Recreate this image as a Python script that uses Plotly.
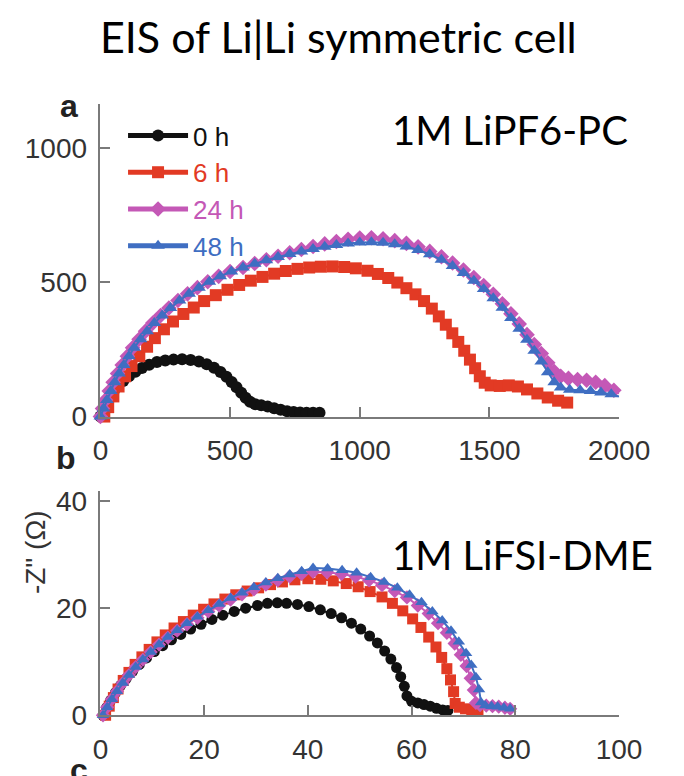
import plotly.graph_objects as go

# ---------------- data: panel a (1M LiPF6-PC) ----------------
a_x_0h = [0, 10, 22, 35, 50, 68, 88, 110, 135, 160, 188, 218, 250, 282, 315, 348, 380, 410, 438, 463,
          486, 506, 525, 543, 560, 577, 597, 620, 645, 670, 695, 720, 745, 770, 795, 820, 845]
a_y_0h = [0, 22, 45, 68, 90, 112, 132, 150, 167, 181, 193, 203, 209, 212, 213, 211, 205, 195, 182, 166,
          148, 129, 109, 89, 70, 55, 46, 42, 37, 31, 25, 20, 17, 15, 14, 14, 14]

a_x_6h = [15, 30, 50, 70, 95, 120, 150, 180, 210, 245, 280, 320, 360, 400, 445, 490, 535, 580, 625, 670,
          715, 760, 805, 850, 895, 940, 985, 1030, 1070, 1110, 1145, 1180, 1215, 1248, 1278, 1305, 1332,
          1357, 1380, 1403, 1425, 1445, 1463, 1482, 1505, 1540, 1575, 1610, 1645, 1685, 1725, 1765, 1800]
a_y_6h = [0, 35, 75, 112, 150, 188, 225, 260, 292, 325, 354, 382, 406, 430, 452, 472, 490, 506, 520, 532,
          542, 550, 555, 558, 559, 557, 552, 543, 531, 516, 499, 478, 455, 430, 402, 373, 342,
          310, 278, 245, 212, 180, 150, 126, 116, 114, 116, 112, 101, 86, 71, 59, 52]

a_x_24h = [0, 8, 20, 34, 49, 66, 84, 104, 124, 149, 174, 202, 232, 264, 299, 336, 374, 414, 456, 500,
           550, 595, 640, 685, 730, 775, 820, 865, 910, 955, 1000, 1045, 1090, 1135, 1180, 1225, 1270,
           1315, 1358, 1400, 1440, 1478, 1515, 1550, 1583, 1615, 1645, 1673, 1700, 1725, 1750, 1775,
           1805, 1840, 1875, 1910, 1945, 1980, 2015]
a_y_24h = [0, 30, 62, 95, 128, 160, 192, 225, 256, 288, 318, 348, 376, 404, 432, 457, 480, 502, 522, 540,
           555, 570, 584, 597, 610, 622, 633, 643, 652, 660, 665, 666, 662, 655, 645, 632, 615,
           595, 572, 546, 518, 488, 455, 420, 383, 345, 305, 268, 235, 200, 168, 150,
           142, 138, 135, 128, 115, 98, 78]

a_x_48h = [0, 12, 25, 40, 55, 72, 90, 110, 130, 155, 180, 208, 238, 270, 305, 342, 380, 420, 462, 505,
           550, 595, 640, 685, 730, 775, 820, 865, 910, 955, 1000, 1045, 1090, 1135, 1180, 1225, 1270,
           1315, 1358, 1400, 1440, 1478, 1515, 1550, 1583, 1615, 1645, 1673, 1700, 1725, 1750, 1775,
           1810, 1850, 1890, 1930, 1970, 2010]
a_y_48h = [0, 30, 62, 95, 128, 160, 192, 225, 256, 288, 318, 348, 376, 404, 432, 457, 480, 502, 522, 540,
           555, 569, 582, 594, 605, 615, 624, 632, 639, 644, 648, 649, 647, 642, 633, 620, 604,
           584, 561, 535, 506, 475, 441, 405, 367, 327, 286, 245, 205, 165, 128, 108,
           100, 98, 95, 90, 83, 72]

# ---------------- data: panel b (1M LiFSI-DME) ----------------
b_x_0h = [0.5, 1.2, 2.0, 2.9, 3.9, 5.0, 6.2, 7.5, 8.9, 10.4, 12.0, 13.7, 15.5, 17.4, 19.4, 21.5, 23.6,
          25.8, 28.0, 30.3, 32.2, 34.1, 35.9, 38.0, 40.2, 42.4, 44.5, 46.5, 48.4, 50.2, 51.9, 53.4,
          54.8, 56.0, 57.1, 57.9, 58.6, 59.1, 60.0, 61.2, 62.4, 63.6, 64.8, 66.0, 67.0]
b_y_0h = [0, 1.4, 2.8, 4.2, 5.6, 6.9, 8.2, 9.5, 10.7, 11.9, 13.0, 14.1, 15.1, 16.1, 17.0, 17.9, 18.7,
          19.4, 20.0, 20.5, 20.9, 21.0, 20.9, 20.7, 20.3, 19.7, 19.0, 18.2, 17.2, 16.1, 14.8, 13.5,
          12.0, 10.5, 8.9, 7.2, 5.4, 3.6, 2.6, 2.3, 2.0, 1.7, 1.3, 1.0, 0.9]

b_x_6h = [1.0, 1.7, 2.5, 3.4, 4.4, 5.5, 6.7, 8.0, 9.4, 10.9, 12.5, 14.2, 16.0, 17.9, 19.9, 21.9, 24.0,
          26.1, 28.3, 30.5, 32.8, 35.1, 37.5, 40.0, 42.5, 44.9, 47.4, 49.7, 52.0, 54.3, 56.3,
          58.3, 60.2, 61.8, 63.3, 64.7, 65.8, 66.8, 67.5, 68.1, 68.4, 69.2, 70.4, 71.6, 72.8]
b_y_6h = [0, 1.7, 3.3, 4.9, 6.5, 8.0, 9.5, 10.9, 12.3, 13.7, 15.0, 16.3, 17.5, 18.7, 19.8, 20.8, 21.7,
          22.5, 23.2, 23.8, 24.4, 24.9, 25.3, 25.5, 25.4, 25.1, 24.6, 24.0, 23.1, 22.1, 20.9,
          19.5, 18.0, 16.4, 14.6, 12.75, 10.8, 8.7, 6.6, 4.4, 2.2, 1.5, 1.2, 1.0, 0.8]

b_x_24h = [0.5, 1.3, 2.2, 3.2, 4.3, 5.5, 6.8, 8.2, 9.7, 11.3, 13.0, 14.8, 16.7, 18.7, 20.8, 22.9, 25.1,
           27.3, 29.6, 31.9, 34.2, 36.5, 38.8, 41.0, 43.7, 46.5, 49.2, 51.8, 54.3, 56.75, 59.1, 61.2,
           63.3, 65.1, 66.8, 68.3, 69.5, 70.6, 71.4, 72.0, 72.4, 73.2, 74.4, 75.6, 76.8, 78.0, 79.0]
b_y_24h = [0, 1.5, 3.0, 4.5, 6.0, 7.5, 9.0, 10.4, 11.8, 13.2, 14.5, 15.8, 17.0, 18.2, 19.4, 20.5, 21.6,
           22.6, 23.5, 24.4, 25.2, 25.9, 26.4, 26.8, 26.7, 26.4, 25.9, 25.2, 24.3, 23.2, 22.0, 20.5,
           19.0, 17.2, 15.4, 13.4, 11.3, 9.2, 6.9, 4.7, 2.3, 1.9, 1.8, 1.7, 1.6, 1.4, 1.2]

b_x_48h = [0.5, 1.3, 2.2, 3.2, 4.3, 5.5, 6.8, 8.2, 9.7, 11.3, 13.0, 14.8, 16.7, 18.7, 20.8, 22.9, 25.1,
           27.3, 29.6, 31.9, 34.2, 36.5, 38.8, 41.0, 43.8, 46.6, 49.4, 52.1, 54.7, 57.25, 59.6, 61.9,
           64.0, 65.9, 67.6, 69.1, 70.5, 71.5, 72.4, 73.0, 73.4, 74.2, 75.4, 76.6, 77.8, 79.0]
b_y_48h = [0, 1.5, 3.0, 4.5, 6.0, 7.5, 9.0, 10.4, 11.8, 13.2, 14.6, 15.9, 17.2, 18.4, 19.6, 20.8, 21.9,
           22.9, 23.9, 24.8, 25.6, 26.3, 26.9, 27.5, 27.4, 27.1, 26.6, 25.8, 24.9, 23.8, 22.5, 21.1,
           19.4, 17.7, 15.8, 13.75, 11.6, 9.4, 7.1, 4.8, 2.4, 1.8, 1.7, 1.6, 1.4, 1.2]

series_names = ["0 h", "6 h", "24 h", "48 h"]
series_colors = ["#111111", "#e23a24", "#c458b6", "#3f6ec2"]
series_symbols = ["circle", "square", "diamond", "triangle-up"]

a_x_ticks = [0, 500, 1000, 1500, 2000]
a_y_ticks = [0, 500, 1000]
b_x_ticks = [0, 20, 40, 60, 80, 100]
b_y_ticks = [0, 20, 40]

title_text = "EIS of Li|Li symmetric cell"
label_a = "1M LiPF6-PC"
label_b = "1M LiFSI-DME"
y_title = '-Z" (Ω)'

# ---------------- figure ----------------
W, H = 684, 776
fig = go.Figure()

a_data = [(a_x_0h, a_y_0h), (a_x_6h, a_y_6h), (a_x_24h, a_y_24h), (a_x_48h, a_y_48h)]
b_data = [(b_x_0h, b_y_0h), (b_x_6h, b_y_6h), (b_x_24h, b_y_24h), (b_x_48h, b_y_48h)]

for i, (xs, ys) in enumerate(a_data):
    fig.add_trace(go.Scatter(
        x=xs, y=ys, mode="lines+markers", xaxis="x", yaxis="y",
        name=f"<span style='color:{series_colors[i]}'>{series_names[i]}</span>",
        line=dict(color=series_colors[i], width=2),
        marker=dict(symbol=series_symbols[i], size=12, color=series_colors[i]),
        cliponaxis=False, showlegend=True))

for i, (xs, ys) in enumerate(b_data):
    fig.add_trace(go.Scatter(
        x=xs, y=ys, mode="lines+markers", xaxis="x2", yaxis="y2",
        name=series_names[i],
        line=dict(color=series_colors[i], width=2),
        marker=dict(symbol=series_symbols[i], size=11, color=series_colors[i]),
        cliponaxis=False, showlegend=False))

px_x = lambda p: p / W
px_y = lambda p: 1 - p / H

tick_font = dict(family="Liberation Sans, Arial, sans-serif", size=28, color="#333333")
axis_common = dict(showline=True, linecolor="#7a7a7a", linewidth=1.5, ticks="inside", ticklen=10,
                   tickwidth=1.5, tickcolor="#7a7a7a", showgrid=False, zeroline=False,
                   tickfont=tick_font, mirror=False)

fig.update_layout(
    width=W, height=H, margin=dict(l=0, r=0, t=0, b=0),
    paper_bgcolor="white", plot_bgcolor="white",
    xaxis=dict(domain=[px_x(98), px_x(648)], range=[0, 2000], tickvals=a_x_ticks, anchor="y",
               ticklabelstandoff=8, **axis_common),
    yaxis=dict(domain=[px_y(423), px_y(102)], range=[0, 1163], tickvals=a_y_ticks, anchor="x",
               ticklabelstandoff=6, **axis_common),
    xaxis2=dict(domain=[px_x(98), px_x(648)], range=[0, 100], tickvals=b_x_ticks, anchor="y2",
                ticklabelstandoff=8, **axis_common),
    yaxis2=dict(domain=[px_y(730), px_y(500)], range=[0, 41.8], tickvals=b_y_ticks, anchor="x2",
                ticklabelstandoff=6, **axis_common),
    legend=dict(x=px_x(122), y=px_y(110), xanchor="left", yanchor="top",
                bgcolor="rgba(0,0,0,0)", font=dict(family="Liberation Sans, Arial, sans-serif", size=26),
                tracegroupgap=0, itemsizing="constant", itemwidth=60),
    showlegend=True,
)

annots = [
    dict(text=title_text, x=px_x(351), y=px_y(32), font=dict(family="Lato, sans-serif", size=43, color="black")),
    dict(text=label_a, x=px_x(405), y=px_y(128), xanchor="left",
         font=dict(family="Lato, sans-serif", size=40, color="black")),
    dict(text=label_b, x=px_x(405), y=px_y(565), xanchor="left",
         font=dict(family="Lato, sans-serif", size=40, color="black")),
    dict(text="<b>a</b>", x=px_x(65), y=px_y(104),
         font=dict(family="Liberation Sans, Arial, sans-serif", size=32, color="#222")),
    dict(text="<b>b</b>", x=px_x(62), y=px_y(466),
         font=dict(family="Liberation Sans, Arial, sans-serif", size=32, color="#222")),
    dict(text="<b>c</b>", x=px_x(75), y=px_y(786),
         font=dict(family="Liberation Sans, Arial, sans-serif", size=32, color="#222")),
    dict(text=y_title, x=px_x(30), y=px_y(562), textangle=-90,
         font=dict(family="Liberation Sans, Arial, sans-serif", size=28, color="#333")),
]
for a in annots:
    a.setdefault("xanchor", "center")
    a.update(xref="paper", yref="paper", showarrow=False, yanchor="middle")
fig.update_layout(annotations=annots)

fig.write_html("out.html")
